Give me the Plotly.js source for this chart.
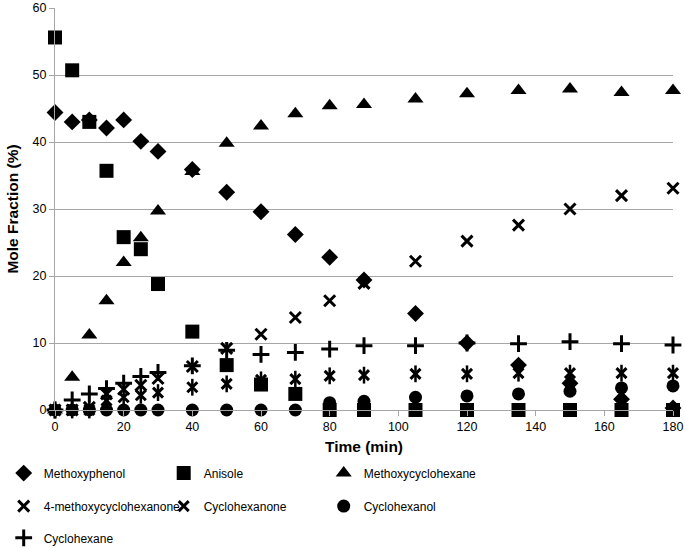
<!DOCTYPE html>
<html>
<head>
<meta charset="utf-8">
<script src="https://cdn.plot.ly/plotly-3.0.1.min.js"></script>
<style>html,body{margin:0;padding:0;background:#fff;}#chart{width:685px;height:548px;}</style>
</head>
<body>
<div id="chart"></div>
<script>
// ---- data ----
const timeMin = [0, 5, 10, 15, 20, 25, 30, 40, 50, 60, 70, 80, 90, 105, 120, 135, 150, 165, 180];
const methoxyphenol = [44.4, 43.0, 43.3, 42.1, 43.3, 40.1, 38.6, 35.9, 32.5, 29.6, 26.2, 22.8, 19.4, 14.4, 10.0, 6.7, 4.0, 1.6, 0.3];
const anisole = [55.6, 50.7, 43.0, 35.7, 25.8, 24.0, 18.8, 11.7, 6.7, 3.8, 2.4, 0, 0, 0, 0, 0, 0, 0, 0];
const methoxycyclohexane = [0, 4.9, 11.2, 16.3, 22.0, 25.7, 29.7, 35.6, 39.8, 42.4, 44.2, 45.4, 45.6, 46.4, 47.2, 47.7, 47.9, 47.4, 47.7];
const methoxycyclohexanone = [0, 0, 0.4, 2.4, 3.1, 3.7, 4.7, 6.5, 9.2, 11.3, 13.8, 16.3, 18.9, 22.2, 25.2, 27.6, 30.0, 32.0, 33.1];
const cyclohexanone = [0, 0, 0, 1.4, 1.9, 2.2, 2.6, 3.4, 3.9, 4.5, 4.6, 5.1, 5.2, 5.4, 5.4, 5.5, 5.5, 5.5, 5.5];
const cyclohexanol = [0, 0, 0, 0, 0, 0, 0, 0, 0, 0, 0, 1.1, 1.3, 1.9, 2.1, 2.4, 2.8, 3.3, 3.6];
const cyclohexane = [0, 1.5, 2.4, 3.2, 4.0, 5.0, 5.6, 6.6, 8.9, 8.3, 8.6, 9.1, 9.6, 9.6, 10.0, 9.9, 10.2, 9.9, 9.7];
const seriesNames = ["Methoxyphenol", "Anisole", "Methoxycyclohexane", "4-methoxycyclohexanone", "Cyclohexanone", "Cyclohexanol", "Cyclohexane"];
const xTickVals = [0, 20, 40, 60, 80, 100, 120, 140, 160, 180];
const yTickVals = [0, 10, 20, 30, 40, 50, 60];

const FONT = "Liberation Sans, Arial, sans-serif";
const BLACK = "#000000";
const GRID = "#a6a6a6";

function mk(name, y, symbol, size, legend, extra) {
  return {
    type: "scatter", mode: "markers", name: name, x: timeMin, y: y,
    cliponaxis: false, legend: legend,
    marker: Object.assign({symbol: symbol, size: size, color: BLACK, line: {color: BLACK, width: 0}}, extra || {})
  };
}

const traces = [
  mk(seriesNames[0], methoxyphenol, "diamond", 13, "legend"),
  mk(seriesNames[1], anisole, "square", 14, "legend"),
  mk(seriesNames[2], methoxycyclohexane, "triangle-up", 14, "legend"),
  mk(seriesNames[3], methoxycyclohexanone, "x-thin-open", 11, "legend2", {line: {color: BLACK, width: 3}}),
  mk(seriesNames[4], cyclohexanone, "x-thin-open", 10, "legend2", {line: {color: BLACK, width: 3}}),
  mk(seriesNames[5], cyclohexanol, "circle", 13, "legend2"),
  mk(seriesNames[6], cyclohexane, "cross-thin-open", 12, "legend3", {line: {color: BLACK, width: 3}})
];
// vertical stroke of the star marker for Cyclohexanone (same data, no legend entry)
const starBar = mk(seriesNames[4], cyclohexanone, "line-ns-open", 12, "legend2", {line: {color: BLACK, width: 2.5}});
starBar.showlegend = false;
starBar.legendgroup = "cyc";
traces[4].legendgroup = "cyc";
traces.splice(5, 0, starBar);

function legendRow(y) {
  return {
    orientation: "h", x: -0.083, xanchor: "left", y: y, yanchor: "middle",
    entrywidth: 115, entrywidthmode: "pixels",
    font: {family: FONT, size: 12, color: BLACK},
    bgcolor: "rgba(0,0,0,0)", borderwidth: 0, itemclick: false
  };
}

const layout = {
  width: 685, height: 548,
  margin: {l: 55, r: 12, t: 8, b: 138, autoexpand: false},
  paper_bgcolor: "#ffffff", plot_bgcolor: "#ffffff",
  font: {family: FONT, size: 12, color: BLACK},
  showlegend: true,
  legend: legendRow(-0.157),
  legend2: legendRow(-0.239),
  legend3: legendRow(-0.318),
  xaxis: {
    range: [0, 180], tickvals: xTickVals, ticktext: xTickVals.map(String),
    automargin: false,
    showgrid: false, zeroline: false,
    showline: true, linecolor: GRID, linewidth: 1,
    ticks: "outside", ticklen: 5, tickcolor: GRID,
    tickfont: {family: FONT, size: 12.5, color: BLACK},
    title: {text: "Time (min)", font: {family: FONT, size: 15.5, color: BLACK, weight: "bold"}, standoff: 8}
  },
  yaxis: {
    range: [0, 60], tickvals: yTickVals, ticktext: yTickVals.map(String),
    automargin: false,
    showgrid: true, gridcolor: GRID, gridwidth: 1, zeroline: false,
    showline: true, linecolor: GRID, linewidth: 1,
    ticks: "outside", ticklen: 5, tickcolor: GRID,
    tickfont: {family: FONT, size: 12.5, color: BLACK},
    title: {text: "Mole Fraction (%)", font: {family: FONT, size: 15.5, color: BLACK, weight: "bold"}, standoff: 10}
  }
};

Plotly.newPlot("chart", traces, layout, {displayModeBar: false, staticPlot: true});
</script>
</body>
</html>
